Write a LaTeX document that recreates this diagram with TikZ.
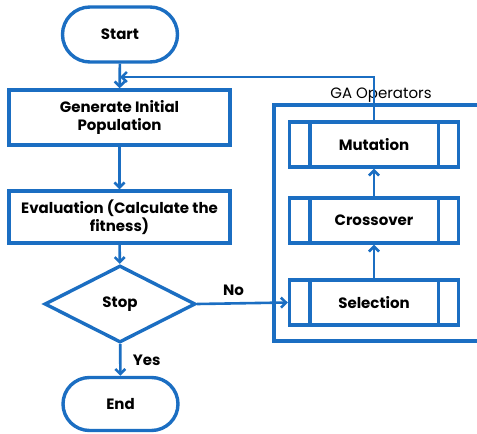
\documentclass[tikz,border=0pt]{standalone}
\usepackage{fontspec}
\setmainfont{Poppins}
\usetikzlibrary{shapes.geometric,shapes.misc,arrows.meta}
\definecolor{flowblue}{HTML}{1B6EC2}
\begin{document}
\begin{tikzpicture}[x=1pt,y=-1pt,
  every node/.style={font=\fontsize{15}{17.5}\selectfont\bfseries, align=center, text=black},
  line/.style={draw=flowblue, line width=3.4pt},
  terminal/.style={line, rounded rectangle, minimum width=115pt, minimum height=55pt, inner sep=0pt},
  process/.style={line, rectangle, minimum width=221pt, inner sep=0pt},
  decision/.style={line, diamond, minimum width=151pt, minimum height=77pt, inner sep=0pt},
  operator/.style={line, rectangle, minimum width=169pt, minimum height=45pt, inner sep=0pt},
  arr/.style={draw=flowblue, line width=2.6pt, -{Straight Barb[length=5pt,width=10pt,line width=2.6pt]}},
]
\useasboundingbox (0,0) rectangle (477,434);

% main flow
\node[terminal] (start) at (120,34.5) {Start};
\node[process, minimum height=55pt] (gen) at (119.5,117.5) {Generate Initial\\Population};
\node[process, minimum height=52pt] (eval) at (119.5,217) {Evaluation (Calculate the\\fitness)};
\node[decision] (stop) at (120,304) {Stop};
\node[terminal, minimum height=53pt] (end) at (120.5,404) {End};

% GA operators group (open to the right, runs past the page edge)
\draw[line] (490,105) -- (274,105) -- (274,341) -- (490,341);
\node[font=\fontsize{15}{17.5}\selectfont] (galabel) at (381,95) {GA Operators};
\node[operator] (mut) at (374,144.5) {Mutation};
\node[operator] (cross) at (374,220.5) {Crossover};
\node[operator] (sel) at (374,302.5) {Selection};
\foreach \n in {mut,cross,sel}{
  \draw[line] ([xshift=22pt]\n.north west) -- ([xshift=22pt]\n.south west);
  \draw[line] ([xshift=-22pt]\n.north east) -- ([xshift=-22pt]\n.south east);
}

% connectors
\coordinate (fb) at (120,77);
\draw[arr] (start) -- (gen);
\draw[arr] (gen) -- (eval);
\draw[arr] (eval) -- (stop);
\draw[arr] (stop) -- node[right=8pt, pos=0.5] (yes) {Yes} (end);
\draw[arr] (stop.east) -- node[above=3pt, pos=0.4] (no) {No} (sel.west);
\draw[arr] (sel) -- (cross);
\draw[arr] (cross) -- (mut);
\draw[arr] (mut.north) |- (fb);
\end{tikzpicture}
\end{document}
